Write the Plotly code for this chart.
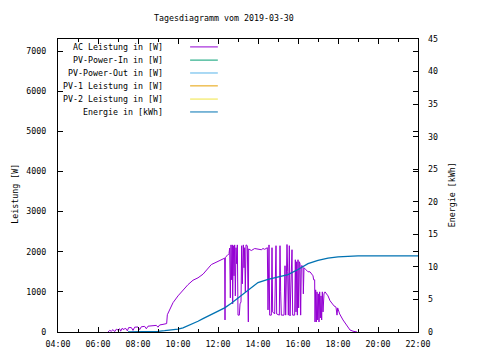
import plotly.graph_objects as go

DAY = "2019-03-30 "

title_text = "Tagesdiagramm vom 2019-03-30"
series_names = ["AC Leistung in [W]", "PV-Power-In in [W]", "PV-Power-Out in [W]",
                "PV-1 Leistung in [W]", "PV-2 Leistung in [W]", "Energie in [kWh]"]
series_colors = ["#9400d3", "#009e73", "#56b4e9", "#e69f00", "#f0e442", "#0072b2"]

x_tick_labels = ["04:00", "06:00", "08:00", "10:00", "12:00", "14:00", "16:00", "18:00", "20:00", "22:00"]

ac_times = ["06:30", "06:35", "06:40", "06:45", "06:50", "06:55", "07:00", "07:05", "07:08", "07:12",
            "07:18", "07:22", "07:28", "07:32", "07:40", "07:45", "07:50", "08:00", "08:05", "08:10",
            "08:20", "08:25", "08:30", "08:45", "08:55", "09:00", "09:05", "09:15", "09:22", "09:26",
            "09:28", "09:35", "09:45", "10:00", "10:10", "10:20", "10:30", "10:45", "11:00", "11:15",
            "11:30", "11:40", "12:00", "12:10", "12:20", "12:21", "12:22", "12:27", "12:33", "12:35",
            "12:37", "12:39", "12:41", "12:43", "12:44", "12:46", "12:48", "12:50", "12:52", "12:54",
            "12:56", "12:58", "13:00", "13:04", "13:06", "13:09", "13:11", "13:13", "13:16", "13:18",
            "13:20", "13:22", "13:24", "13:28", "13:29", "13:31", "13:32", "13:40", "13:50", "14:00",
            "14:10", "14:15", "14:20", "14:28", "14:30", "14:33", "14:35", "14:40", "14:42", "14:44",
            "14:50", "14:54", "14:56", "15:04", "15:06", "15:08", "15:10", "15:18", "15:21", "15:23",
            "15:27", "15:29", "15:31", "15:34", "15:36", "15:42", "15:44", "15:50", "15:52", "15:54",
            "15:56", "15:58", "16:00", "16:02", "16:04", "16:06", "16:08", "16:10", "16:13", "16:15",
            "16:16", "16:18", "16:24", "16:30", "16:36", "16:42", "16:45", "16:47", "16:50", "16:51",
            "16:53", "16:55", "16:57", "16:59", "17:01", "17:03", "17:05", "17:07", "17:09", "17:11",
            "17:13", "17:15", "17:18", "17:21", "17:27", "17:30", "17:36", "17:42", "17:48", "17:54",
            "17:57", "17:59", "18:05", "18:15", "18:21", "18:30", "18:36", "18:45", "18:57"]
ac_watts = [0, 40, 20, 60, 10, 70, 50, 80, 20, 90,
            60, 100, 30, 110, 110, 40, 120, 125, 60, 130,
            140, 80, 145, 155, 165, 120, 175, 190, 200, 210,
            430, 560, 730, 900, 1000, 1080, 1180, 1290, 1350, 1440,
            1580, 1680, 1760, 1800, 1840, 300, 1860, 1900, 1950, 2090,
            850, 2170, 1300, 2170, 700, 2150, 1400, 2170, 900, 2100,
            1700, 2170, 420, 420, 700, 750, 2150, 1200, 2170, 1600,
            2100, 1000, 2170, 2150, 250, 250, 2070, 2030, 2080, 2070,
            2050, 2080, 2060, 2100, 550, 2170, 420, 420, 2100, 500,
            450, 2150, 450, 420, 2150, 1000, 420, 420, 1650, 420,
            2180, 1500, 420, 2150, 400, 2050, 420, 420, 1800, 500,
            1750, 420, 1800, 600, 1750, 1700, 420, 1650, 1650, 1600,
            950, 1600, 1550, 1500, 1500, 1450, 1400, 1300, 1300, 250,
            1050, 250, 1000, 300, 950, 250, 1000, 350, 900, 300,
            1000, 500, 950, 1000, 930, 900, 780, 720, 650, 620,
            420, 600, 450, 300, 220, 120, 50, 20, 0]

en_times = ["07:30", "08:00", "08:30", "09:00", "09:20", "09:45", "10:00", "10:15", "10:30", "10:45",
            "11:00", "11:15", "11:30", "11:45", "12:00", "12:20", "12:40", "13:00", "13:20", "13:40",
            "14:00", "14:30", "15:00", "15:30", "16:00", "16:30", "17:00", "17:30", "18:00", "18:30",
            "19:00", "20:00", "21:00", "22:00"]
en_kwh = [0.0, 0.02, 0.05, 0.1, 0.2, 0.3, 0.45, 0.65, 0.95, 1.3,
          1.65, 2.05, 2.45, 2.85, 3.25, 3.7, 4.4, 5.2, 6.0, 6.8,
          7.6, 8.1, 8.4, 8.8, 9.6, 10.5, 11.0, 11.35, 11.55, 11.65,
          11.7, 11.7, 11.7, 11.7]

FONT = "DejaVu Sans Mono"
FS = 8.3

fig = go.Figure()
fig.add_trace(go.Scatter(x=[DAY + t for t in ac_times], y=ac_watts, mode="lines",
                         line=dict(color=series_colors[0], width=1), name=series_names[0],
                         showlegend=False))
for i in range(1, 5):
    fig.add_trace(go.Scatter(x=[], y=[], mode="lines", line=dict(color=series_colors[i], width=1),
                             name=series_names[i], showlegend=False))
fig.add_trace(go.Scatter(x=[DAY + t for t in en_times], y=en_kwh, mode="lines", yaxis="y2",
                         line=dict(color=series_colors[5], width=1.3), name=series_names[5],
                         showlegend=False))

# gnuplot-style legend: right-aligned text with sample line at right
legend_rows = [0.973, 0.928, 0.884, 0.840, 0.795, 0.751]
annotations = []
shapes = []
for name, color, yy in zip(series_names, series_colors, legend_rows):
    annotations.append(dict(text=name, xref="paper", yref="paper", x=0.297, y=yy,
                            xanchor="right", yanchor="middle", showarrow=False,
                            font=dict(family=FONT, size=FS, color="black")))
    shapes.append(dict(type="line", xref="paper", yref="paper", x0=0.367, x1=0.444,
                       y0=yy, y1=yy, line=dict(color=color, width=1)))

annotations.append(dict(text=title_text, xref="paper", yref="paper", x=0.46, y=1.0717,
                        xanchor="center", yanchor="middle", showarrow=False,
                        font=dict(family=FONT, size=FS, color="black")))
annotations.append(dict(text="Leistung [W]", xref="paper", yref="paper", x=-0.118, y=0.47,
                        textangle=-90, xanchor="center", yanchor="middle", showarrow=False,
                        font=dict(family=FONT, size=FS, color="black")))
annotations.append(dict(text="Energie [kWh]", xref="paper", yref="paper", x=1.094, y=0.47,
                        textangle=-90, xanchor="center", yanchor="middle", showarrow=False,
                        font=dict(family=FONT, size=FS, color="black")))

tick_vals = [DAY + t for t in x_tick_labels]

# the page body adds an 8px offset, so the figure is sized to fit the window
fig.update_layout(
    width=472, height=352,
    margin=dict(l=50, r=62, t=31, b=28, autoexpand=False),
    paper_bgcolor="white", plot_bgcolor="white",
    showlegend=False,
    font=dict(family=FONT, size=FS, color="black"),
    annotations=annotations, shapes=shapes,
    xaxis=dict(type="date", range=[DAY + "04:00", DAY + "22:00"], automargin=False,
               tickvals=tick_vals, ticktext=x_tick_labels,
               ticks="inside", ticklen=5, tickcolor="black",
               minor=dict(dtick=3600000, ticks="inside", ticklen=3, tickcolor="black"),
               showline=True, linecolor="black", linewidth=1, mirror="ticks",
               showgrid=False, zeroline=False, ticklabelstandoff=4,
               tickfont=dict(family=FONT, size=FS, color="black")),
    yaxis=dict(range=[0, 7300], tickvals=[0, 1000, 2000, 3000, 4000, 5000, 6000, 7000],
               automargin=False,
               ticks="inside", ticklen=5, tickcolor="black",
               showline=True, linecolor="black", linewidth=1, mirror="ticks",
               showgrid=False, zeroline=False, ticklabelstandoff=9,
               tickfont=dict(family=FONT, size=FS, color="black")),
    yaxis2=dict(range=[0, 45], overlaying="y", side="right", automargin=False,
                tickvals=[0, 5, 10, 15, 20, 25, 30, 35, 40, 45],
                ticks="inside", ticklen=5, tickcolor="black",
                showline=False, showgrid=False, zeroline=False, ticklabelstandoff=9,
                tickfont=dict(family=FONT, size=FS, color="black")),
)

fig.write_html("out.html")
